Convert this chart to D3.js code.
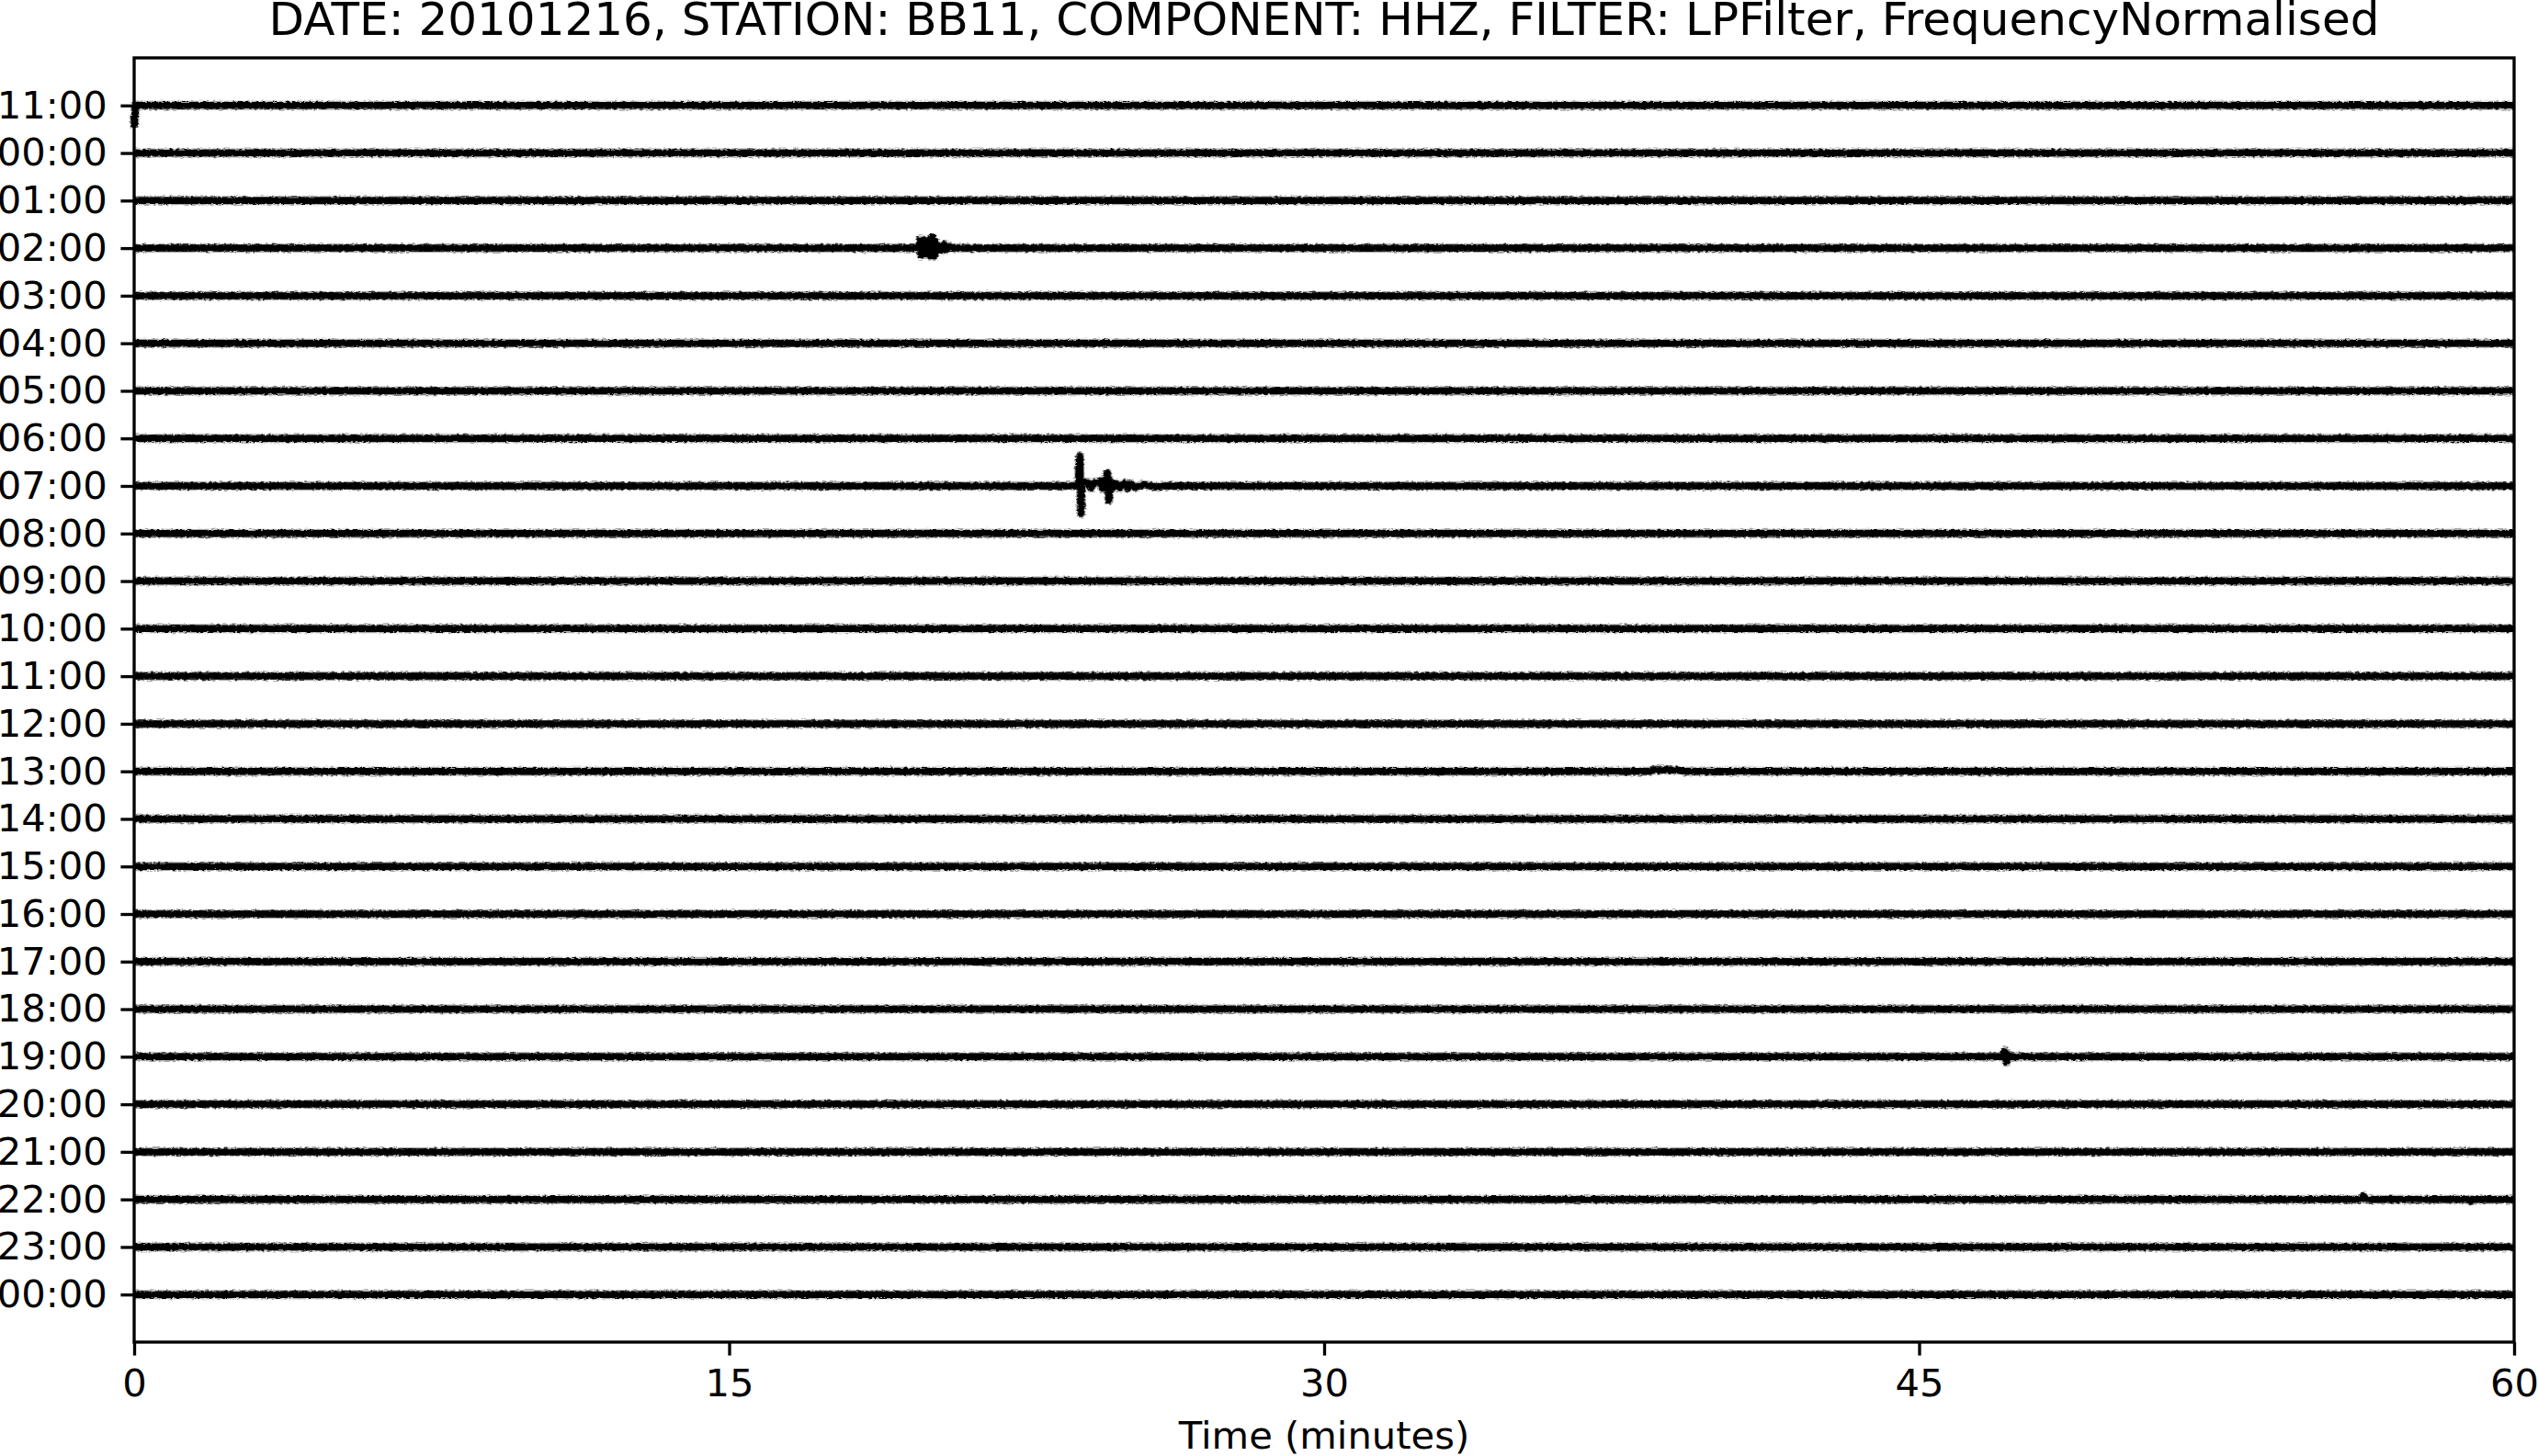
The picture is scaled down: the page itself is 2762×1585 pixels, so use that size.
<!DOCTYPE html>
<html>
<head>
<meta charset="utf-8">
<script src="https://cdn.jsdelivr.net/npm/d3@7"></script>
<style>
  body { margin: 0; background: #fff; }
  text { font-family: "DejaVu Sans", sans-serif; fill: #000; }
</style>
</head>
<body>
<div id="chart"></div>
<script>
// row labels, top to bottom
var hourLabels = ["11:00","00:00","01:00","02:00","03:00","04:00","05:00","06:00","07:00","08:00",
                  "09:00","10:00","11:00","12:00","13:00","14:00","15:00","16:00","17:00","18:00",
                  "19:00","20:00","21:00","22:00","23:00","00:00"];
var minuteTicks = [0, 15, 30, 45, 60];

// traces: [minute, normalised amplitude]
var quietTrace = [[0,0],[60,0]];
var trace1100 = [[0,-0.46],[0.03,0],[60,0]];
var trace0200 = [[0,0],[19.78,0],[19.81,0.17],[19.84,-0.15],[19.87,0.16],[19.90,-0.14],[19.93,0.15],
                 [19.96,-0.12],[19.99,0.06],[20.03,-0.03],[20.07,0.2],[20.10,-0.17],[20.13,0.23],
                 [20.16,-0.16],[20.19,0.14],[20.22,-0.06],[20.27,0.05],[20.33,-0.04],[20.42,0.07],
                 [20.46,-0.04],[20.55,0.03],[20.65,0],[60,0]];
var trace0700 = [[0,0],[23.80,0],[23.84,0.62],[23.87,-0.58],[23.90,0.1],[23.96,0.07],[24.05,0.06],
                 [24.12,-0.04],[24.2,0.07],[24.3,0.06],[24.37,0.1],[24.42,-0.06],[24.48,0.04],
                 [24.53,0.27],[24.57,-0.31],[24.61,0.1],[24.67,-0.04],[24.75,0.05],[24.85,-0.04],
                 [24.97,0.07],[25.05,-0.05],[25.1,0.05],[25.25,-0.03],[25.45,0.03],[25.75,-0.02],
                 [26,0],[60,0]];
var trace1300 = [[0,0],[38.2,0],[38.3,0.03],[38.9,0.025],[39.05,0],[60,0]];
var trace1900 = [[0,0],[47.12,0],[47.16,0.12],[47.20,-0.12],[47.24,0.05],[47.3,0],[60,0]];
var trace2200 = [[0,0],[56.15,0],[56.2,0.07],[56.27,0],[58.85,0],[58.9,-0.04],[58.95,0],[60,0]];

var traces = hourLabels.map(function(){ return quietTrace; });
traces[0] = trace1100;
traces[3] = trace0200;
traces[8] = trace0700;
traces[14] = trace1300;
traces[20] = trace1900;
traces[23] = trace2200;

var width = 2762, height = 1585;
var margin = {left: 146, right: 26, top: 63, bottom: 124};
var lw = 3.33;

var svg = d3.select("#chart").append("svg")
            .attr("width", width)
            .attr("height", height);

// rough edge for the noisy traces
var filt = svg.append("defs").append("filter")
              .attr("id", "rough")
              .attr("filterUnits", "userSpaceOnUse")
              .attr("x", 0).attr("y", 0)
              .attr("width", width).attr("height", height);
filt.append("feTurbulence")
    .attr("type", "fractalNoise")
    .attr("baseFrequency", "0.25 0.6")
    .attr("numOctaves", 2)
    .attr("seed", 3)
    .attr("result", "noise");
filt.append("feDisplacementMap")
    .attr("in", "SourceGraphic")
    .attr("in2", "noise")
    .attr("scale", 4)
    .attr("xChannelSelector", "R")
    .attr("yChannelSelector", "G");

var xScale = d3.scaleLinear()
               .domain([0, 60])
               .range([margin.left, width - margin.right]);

var yScale = d3.scaleLinear()
               .domain([-1, hourLabels.length])
               .range([margin.top, height - margin.bottom]);

var line = d3.line();

var g = svg.append("g").attr("filter", "url(#rough)");
traces.forEach(function(tr, i){
    var pts = tr.map(function(d){ return [xScale(d[0]), yScale(i - d[1])]; });
    g.append("path")
     .attr("d", line(pts))
     .attr("fill", "none")
     .attr("stroke", "#000")
     .attr("stroke-opacity", 0.35)
     .attr("stroke-width", 10)
     .attr("stroke-linejoin", "round");
    g.append("path")
     .attr("d", line(pts))
     .attr("fill", "none")
     .attr("stroke", "#000")
     .attr("stroke-width", 7.5)
     .attr("stroke-linejoin", "round");
});

var x_axis = d3.axisBottom(xScale)
               .tickValues(minuteTicks)
               .tickSize(14.6)
               .tickPadding(14.6);
var y_axis = d3.axisLeft(yScale)
               .tickValues(d3.range(hourLabels.length))
               .tickFormat(function(d){ return hourLabels[d]; })
               .tickSize(14.6)
               .tickPadding(14.6);

var xa = svg.append("g")
            .attr("transform", "translate(0," + (height - margin.bottom) + ")")
            .call(x_axis);
var ya = svg.append("g")
            .attr("transform", "translate(" + margin.left + ",0)")
            .call(y_axis);

[xa, ya].forEach(function(a){
    a.select(".domain").remove();
    a.selectAll(".tick line").attr("stroke", "#000").attr("stroke-width", lw);
    a.selectAll(".tick text")
     .attr("fill", "#000")
     .style("font-family", "DejaVu Sans")
     .style("font-size", "41.67px");
});

// frame
svg.append("rect")
   .attr("x", margin.left)
   .attr("y", margin.top)
   .attr("width", width - margin.left - margin.right)
   .attr("height", height - margin.top - margin.bottom)
   .attr("fill", "none")
   .attr("stroke", "#000")
   .attr("stroke-width", lw);

svg.append("text")
   .attr("x", (margin.left + width - margin.right) / 2)
   .attr("y", 38)
   .attr("text-anchor", "middle")
   .style("font-size", "50px")
   .text("DATE: 20101216, STATION: BB11, COMPONENT: HHZ, FILTER: LPFilter, FrequencyNormalised");

svg.append("text")
   .attr("x", (margin.left + width - margin.right) / 2)
   .attr("y", 1577)
   .attr("text-anchor", "middle")
   .style("font-size", "41.67px")
   .text("Time (minutes)");
</script>
</body>
</html>
